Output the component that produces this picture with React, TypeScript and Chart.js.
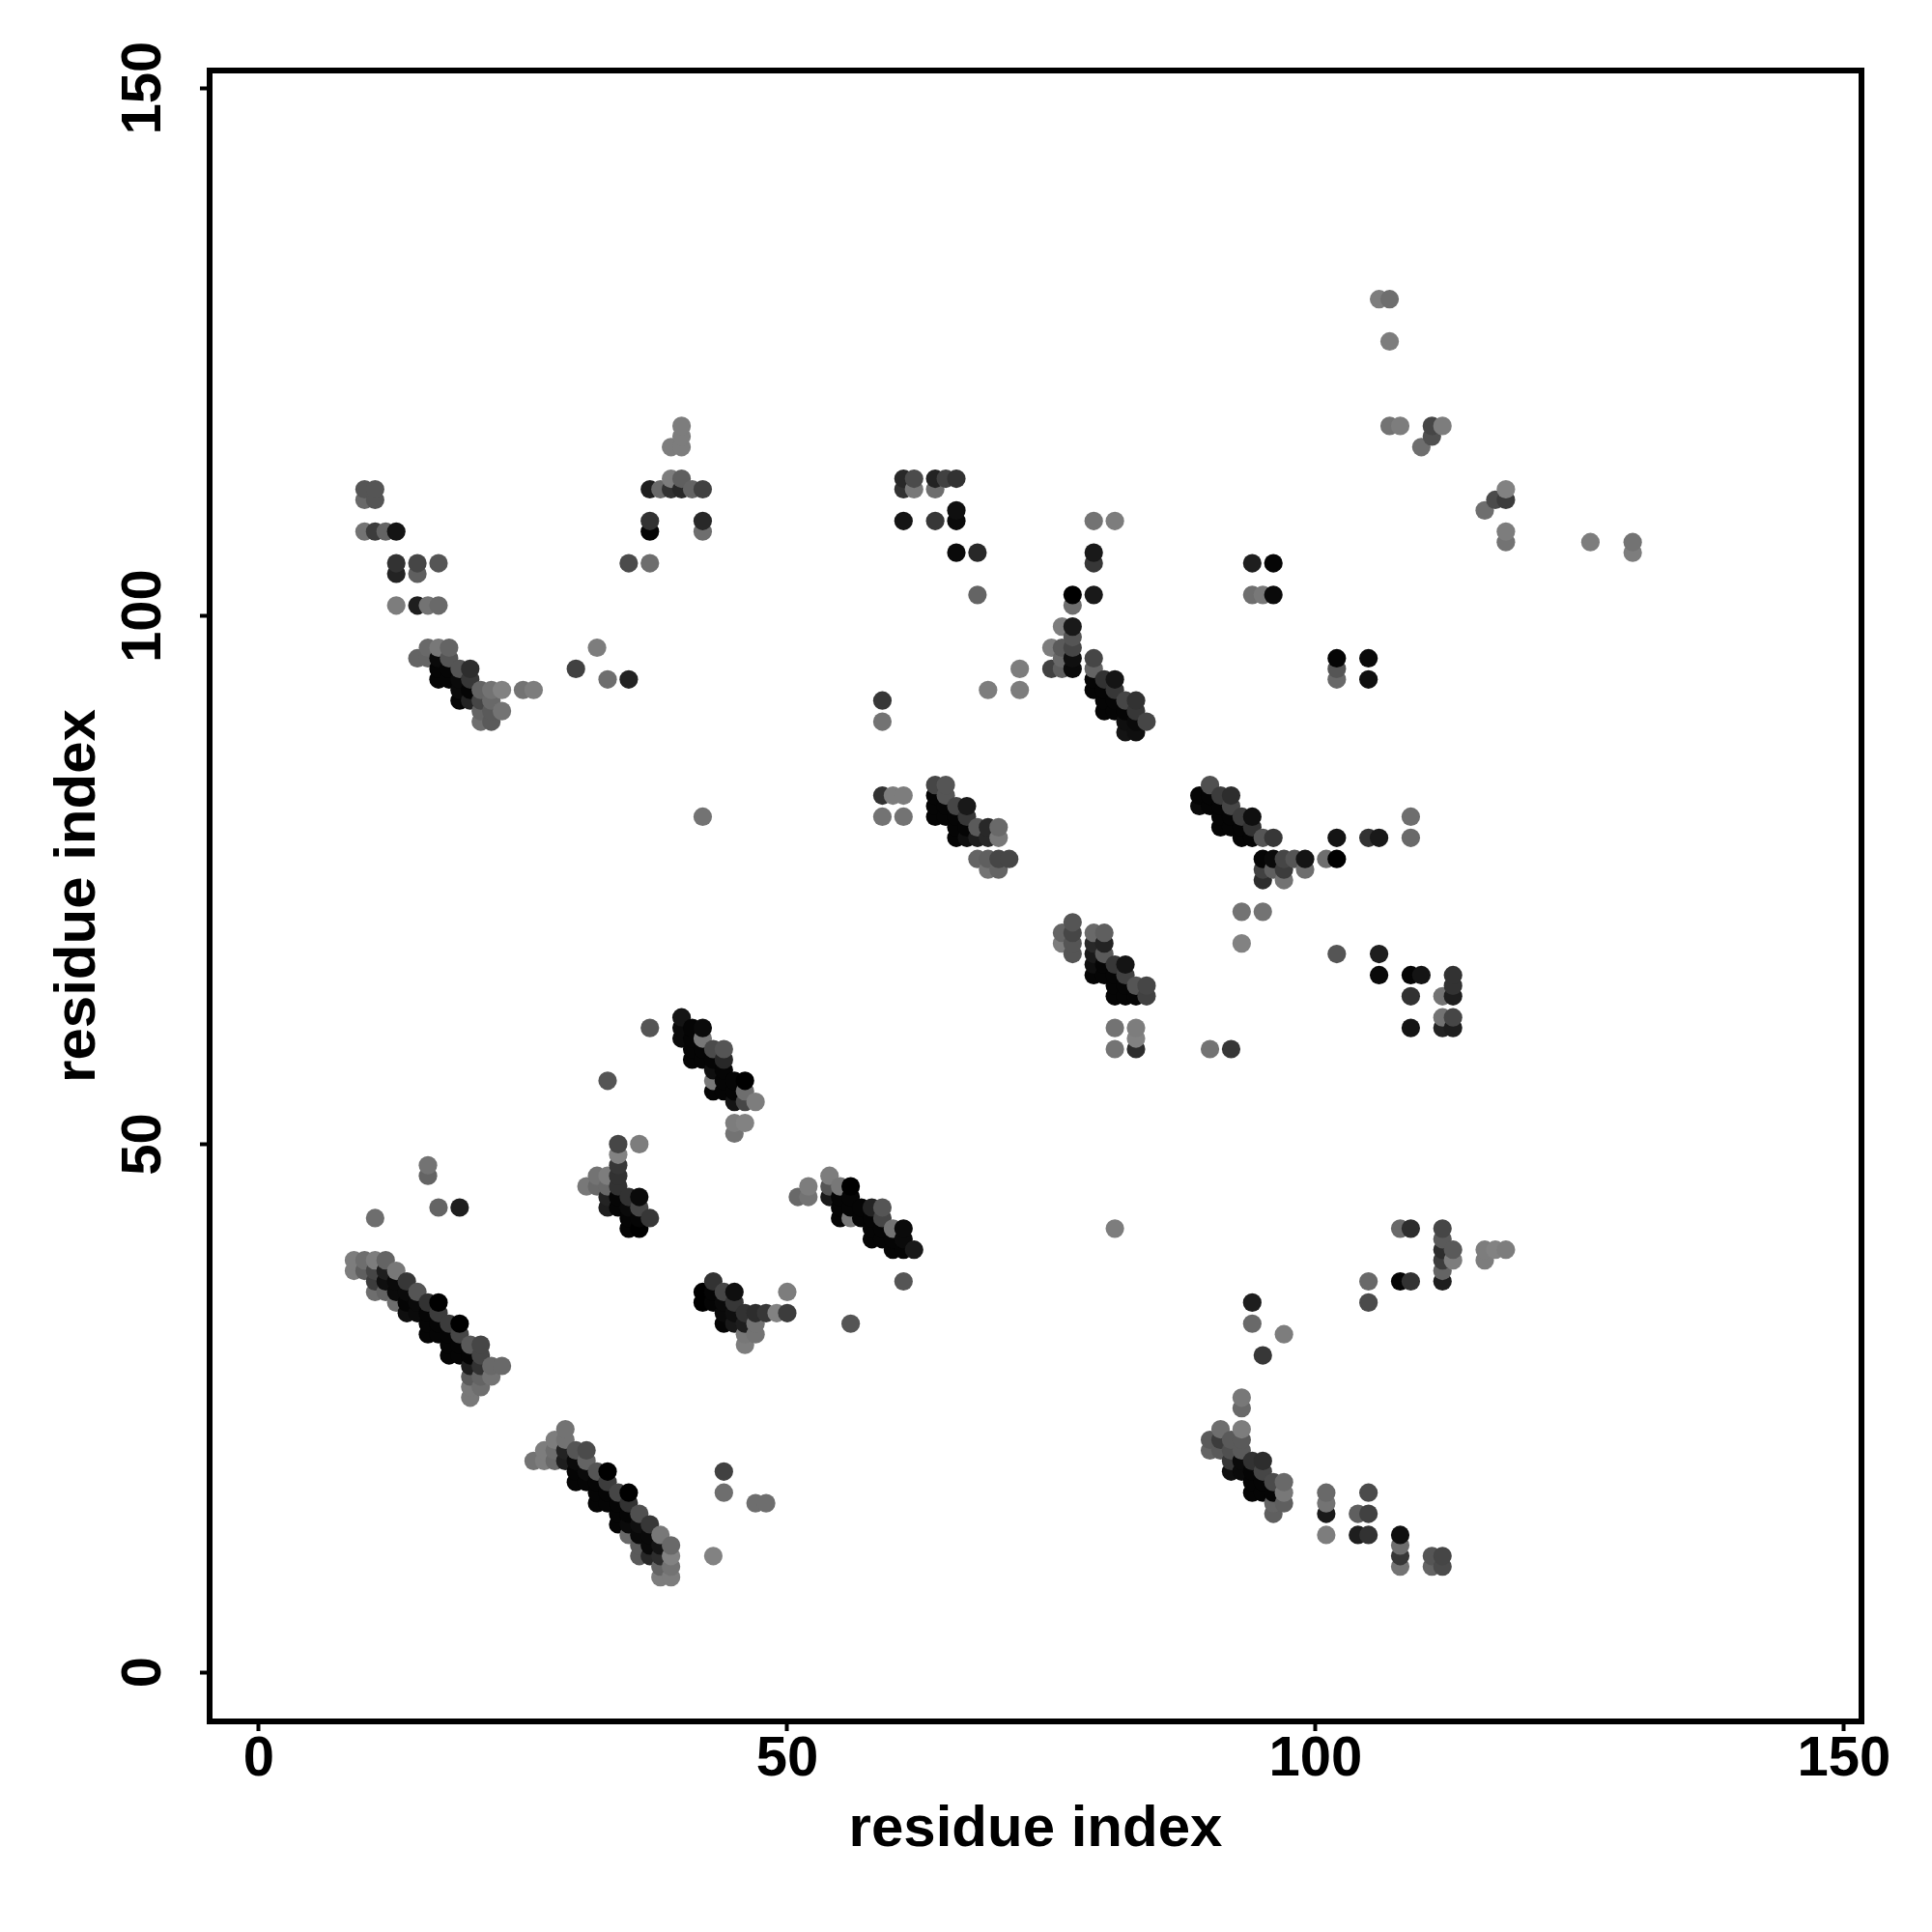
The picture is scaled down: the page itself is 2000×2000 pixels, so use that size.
import React, { useEffect, useRef } from "react";
import { Chart, registerables } from "chart.js";

Chart.register(...registerables);

type Contact = [number, number, number];

const tickValues = [0, 50, 100, 150];
const axisTitle = "residue index";

// [residue x, residue y, grey level]
const strandA: Contact[] = [
  [9,39,125],[9,38,125],[10,39,110],[10,38,95],[11,39,125],[11,38,70],[11,37,60],[11,36,110],
  [12,39,100],[12,38,30],[12,37,15],[12,36,100],[13,38,120],[13,37,10],[13,36,10],[13,35,110],
  [14,37,55],[14,36,10],[14,35,5],[14,34,15],[15,36,85],[15,35,10],[15,34,10],
  [16,35,50],[16,34,5],[16,33,5],[16,32,5],[17,35,0],[17,34,60],[17,33,5],[17,32,5],
  [18,33,60],[18,32,5],[18,31,5],[18,30,5],[19,33,0],[19,32,70],[19,31,5],[19,30,5],
  [20,31,90],[20,30,5],[20,29,30],[20,28,90],[20,27,120],[20,26,120],
  [21,31,70],[21,30,70],[21,29,50],[21,28,100],[21,27,110],[22,29,105],[22,28,115],[23,29,105],
];
const strandB: Contact[] = [
  [26,20,115],[27,21,125],[27,20,125],[28,22,125],[28,21,110],[28,20,105],
  [29,23,115],[29,22,115],[29,21,35],[29,20,30],[30,21,85],[30,20,10],[30,19,5],[30,18,5],
  [31,21,75],[31,20,100],[31,19,10],[31,18,5],[32,19,85],[32,18,5],[32,17,5],[32,16,5],
  [33,19,0],[33,18,60],[33,17,5],[33,16,5],[34,17,70],[34,16,5],[34,15,5],[34,14,5],
  [35,17,0],[35,16,50],[35,15,5],[35,14,10],[35,13,105],[36,15,80],[36,14,15],[36,13,10],[36,12,90],[36,11,90],
  [37,14,55],[37,13,10],[37,12,10],[37,11,40],[38,13,120],[38,12,20],[38,11,45],[38,10,100],[38,9,125],
  [39,12,105],[39,11,130],[39,10,115],[39,9,125],
];
const lowerLeftSingles: Contact[] = [
  [43,11,130],[44,19,65],[44,17,110],[47,16,110],[48,16,110],[11,43,110],[16,48,115],[16,47,100],[17,44,100],[19,44,30],
  [37,61,85],[33,56,85],[36,50,125],[56,33,85],[61,37,85],[42,81,115],[81,42,125],
];
const strandC: Contact[] = [
  [40,62,20],[40,61,10],[40,60,10],[41,61,5],[41,60,5],[41,59,5],[41,58,5],
  [42,61,10],[42,60,120],[42,59,5],[42,58,5],[43,59,75],[43,58,5],[43,57,15],[43,56,120],[43,55,5],
  [44,59,85],[44,58,40],[44,57,5],[44,56,5],[44,55,5],[45,56,5],[45,55,5],[45,54,20],[45,52,125],[45,51,115],
  [46,56,0],[46,55,110],[46,54,70],[46,52,130],[47,54,125],
];
const strandD: Contact[] = [
  [31,46,120],[32,47,115],[32,46,105],[33,47,125],[33,46,105],[33,45,35],[33,44,30],
  [34,50,70],[34,49,130],[34,48,55],[34,47,50],[34,46,50],[34,45,5],[34,44,5],
  [35,45,50],[35,44,10],[35,43,5],[35,42,5],[36,45,10],[36,44,70],[36,43,5],[36,42,0],[37,43,55],
];
const strandE: Contact[] = [
  [42,36,0],[42,35,0],[43,37,50],[43,36,5],[43,35,5],[44,36,70],[44,35,10],[44,34,10],[44,33,5],
  [45,36,15],[45,35,55],[45,34,15],[45,33,25],[46,34,50],[46,33,30],[46,32,120],[46,31,125],
  [47,34,45],[47,33,115],[47,32,115],[48,34,55],[49,34,130],[50,36,125],[50,34,60],
];
const strandF: Contact[] = [
  [51,45,105],[52,46,125],[52,45,115],[54,47,125],[54,46,85],[54,45,25],
  [55,46,120],[55,45,5],[55,44,5],[55,43,5],[56,46,0],[56,45,5],[56,44,5],[56,43,120],[57,44,5],[57,43,5],
  [58,44,35],[58,43,5],[58,42,5],[58,41,5],[59,44,85],[59,43,70],[59,42,5],[59,41,5],
  [60,42,115],[60,41,5],[60,40,5],[61,42,10],[61,41,10],[61,40,5],[62,40,25],
];
const upperLeft: Contact[] = [
  [10,112,85],[10,111,105],[10,108,115],[11,112,85],[11,111,85],[11,108,60],[12,108,100],
  [13,108,20],[13,105,50],[13,104,35],[13,101,125],[15,105,70],[15,104,95],[15,101,30],[16,101,115],
  [17,105,85],[17,101,105],
  [15,96,100],[16,97,105],[16,96,100],[17,97,120],[17,96,10],[17,95,5],[17,94,5],
  [18,97,100],[18,96,85],[18,95,5],[18,94,5],[19,95,85],[19,94,10],[19,93,10],[19,92,5],
  [20,95,45],[20,94,55],[20,93,5],[20,92,35],[21,93,100],[21,92,70],[21,91,100],[21,90,110],
  [22,93,115],[22,92,105],[22,91,90],[22,90,90],[23,93,130],[23,91,115],[25,93,115],[26,93,125],
  [30,95,65],[32,97,125],[33,94,110],[35,94,35],
];
const upperMiddle: Contact[] = [
  [40,118,125],[40,117,125],[40,116,125],[39,116,125],[39,113,125],[39,112,50],[40,113,95],[40,112,40],
  [37,112,30],[37,109,50],[37,108,5],[38,112,105],[41,112,100],[42,112,65],[42,109,40],[42,108,110],
  [35,105,75],[37,105,110],
  [61,113,40],[61,112,50],[61,109,20],[62,113,75],[62,112,120],[64,113,35],[64,112,110],[64,109,55],
  [65,113,65],[66,113,50],[66,110,15],[66,109,10],[66,106,10],[68,106,40],[68,102,100],
  [59,92,55],[59,90,115],[69,93,125],[72,95,125],[72,93,125],
];
const strandG: Contact[] = [
  [79,109,115],[81,109,125],[79,106,25],[79,105,55],[79,102,25],[77,102,0],[77,101,110],
  [76,99,125],[77,99,25],[77,98,85],[77,97,70],[77,96,15],[77,95,10],[75,97,125],[75,95,65],
  [76,97,90],[76,96,105],[76,95,95],
  [79,96,70],[79,95,100],[79,94,5],[79,93,5],[80,94,50],[80,93,5],[80,92,5],[80,91,5],
  [81,94,20],[81,93,55],[81,92,5],[81,91,5],[82,92,70],[82,91,5],[82,90,15],[82,89,20],
  [83,92,50],[83,91,55],[83,90,10],[83,89,15],[84,90,70],
];
const strandH: Contact[] = [
  [59,83,50],[59,81,115],[60,83,125],[61,83,125],[61,81,115],
  [64,84,70],[64,83,5],[64,82,5],[64,81,5],[65,84,85],[65,83,85],[65,82,5],[65,81,5],
  [66,82,70],[66,81,5],[66,80,5],[66,79,5],[67,82,25],[67,81,55],[67,80,5],[67,79,15],
  [68,80,90],[68,79,30],[69,80,40],[69,79,40],[70,80,105],[70,79,120],
  [68,77,100],[69,77,95],[69,76,115],[70,77,70],[70,76,100],[71,77,70],
];
const strandI: Contact[] = [
  [76,70,100],[76,69,125],[77,71,85],[77,70,70],[77,69,85],[77,68,85],
  [79,70,105],[79,69,40],[79,68,25],[79,67,15],[79,66,5],[80,70,95],[80,69,35],[80,68,90],[80,67,5],[80,66,5],
  [81,67,55],[81,66,5],[81,65,5],[81,64,5],[82,67,20],[82,66,65],[82,65,5],[82,64,5],
  [83,65,85],[83,64,5],[84,65,70],[84,64,65],
  [81,61,115],[81,59,115],[83,61,125],[83,60,130],[83,59,45],
];
const rightMiddle: Contact[] = [
  [93,72,115],[95,72,115],[93,69,130],[102,68,85],[106,68,30],[106,66,10],[109,66,5],[110,66,20],
  [109,64,50],[112,64,115],[113,66,50],[113,65,50],[113,64,30],[112,62,115],[113,62,70],[112,61,35],[113,61,30],
  [109,61,20],[90,59,115],[92,59,55],
];
const strandJ: Contact[] = [
  [89,83,5],[89,82,10],[90,84,80],[90,83,5],[90,82,5],[91,83,60],[91,82,5],[91,81,5],[91,80,5],
  [92,83,45],[92,82,70],[92,81,5],[92,80,5],[93,81,60],[93,80,5],[93,79,5],[94,81,15],[94,80,50],[94,79,5],
  [95,79,85],[95,77,5],[95,76,65],[95,75,45],[96,79,55],[96,77,10],[96,76,95],
  [97,77,70],[97,76,60],[97,75,115],[98,77,85],[99,77,20],[99,76,110],
  [101,77,110],[102,77,0],[102,79,20],[105,79,50],[106,79,25],[109,81,110],[109,79,105],
];
const lowerRight: Contact[] = [
  [108,42,105],[109,42,45],[112,42,70],[112,41,90],[112,40,45],[112,39,60],[112,38,100],[112,37,30],
  [113,40,90],[113,39,125],[116,40,125],[116,39,125],[117,40,130],[118,40,125],
  [105,37,105],[105,35,75],[108,37,5],[109,37,50],[94,35,30],[94,33,105],[97,32,125],[95,30,55],
];
const strandK: Contact[] = [
  [93,26,120],[93,25,105],[93,23,125],[93,22,90],[93,21,90],[90,22,90],[90,21,100],
  [91,23,110],[91,22,60],[91,21,90],[92,22,90],[92,21,80],[92,20,55],[92,19,15],[93,20,10],[93,19,10],
  [94,20,50],[94,19,5],[94,18,5],[94,17,5],[95,20,45],[95,19,70],[95,18,5],[95,17,5],
  [96,18,75],[96,17,5],[96,16,100],[96,15,95],[97,18,105],[97,17,120],[97,16,95],
  [101,17,105],[101,16,115],[101,15,25],[101,13,125],[104,15,95],[105,17,75],[105,15,65],[104,13,30],[105,13,50],
  [108,13,15],[108,12,110],[108,11,55],[108,10,115],[111,11,85],[111,10,100],[112,11,70],[112,10,75],
];
const upperRight: Contact[] = [
  [106,130,125],[107,130,110],[107,126,125],[107,118,115],[108,118,125],[111,118,70],[112,118,125],
  [111,117,80],[110,116,110],[118,112,130],[118,111,60],[117,111,75],[116,110,110],[118,108,125],[118,107,115],
  [126,107,125],[130,107,115],[130,106,125],
  [94,105,30],[96,105,5],[94,102,110],[95,102,120],[96,102,10],
  [102,96,5],[102,95,85],[102,94,105],[105,96,10],[105,94,15],
];

const contacts: Contact[] = [
  ...strandA, ...strandB, ...lowerLeftSingles, ...strandC, ...strandD, ...strandE, ...strandF,
  ...upperLeft, ...upperMiddle, ...strandG, ...strandH, ...strandI, ...rightMiddle, ...strandJ,
  ...lowerRight, ...strandK, ...upperRight,
].sort((a, b) => a[0] - b[0] || a[1] - b[1]);

const FAMILY = "'Liberation Sans', Arial, sans-serif";
const TICK_FONT = { family: FAMILY, size: 58, weight: "bold" as const };
const TITLE_FONT = { family: FAMILY, size: 60, weight: "bold" as const };

export default function App() {
  const ref = useRef<HTMLCanvasElement>(null);
  useEffect(() => {
    document.body.style.margin = "0";
    const boxPlugin = {
      id: "box",
      afterDraw(chart: any) {
        const { left, right, top, bottom } = chart.chartArea;
        const c = chart.ctx;
        c.save();
        c.strokeStyle = "#000";
        c.lineWidth = 6;
        c.strokeRect(left, top, right - left, bottom - top);
        c.restore();
      },
    };
    const setTicks = (scale: any) => {
      scale.ticks = tickValues.map((value) => ({ value }));
    };
    const common = {
      type: "linear" as const,
      min: -4.66,
      max: 151.65,
      afterBuildTicks: setTicks,
      grid: { drawOnChartArea: false, drawTicks: true, tickLength: 10, tickWidth: 4, tickColor: "#000" },
      border: { display: false },
    };
    const chart = new Chart(ref.current!, {
      type: "scatter",
      data: {
        datasets: [
          {
            data: contacts.map((c) => ({ x: c[0], y: c[1] })),
            pointRadius: 9.6,
            pointHoverRadius: 9.6,
            pointBorderWidth: 0,
            pointBackgroundColor: contacts.map((c) => `rgb(${c[2]},${c[2]},${c[2]})`),
          },
        ],
      },
      options: {
        animation: false,
        responsive: false,
        events: [],
        layout: { padding: { left: 0, top: 73, right: 73, bottom: 0 } },
        plugins: { legend: { display: false }, tooltip: { enabled: false } },
        scales: {
          x: {
            ...common,
            afterFit: (s: any) => { s.height = 218; },
            ticks: { color: "#000", font: TICK_FONT, autoSkip: false, maxRotation: 0, minRotation: 0, padding: -5, callback: (v: any) => String(v) },
            title: { display: true, text: axisTitle, color: "#000", font: TITLE_FONT, padding: { top: 0, bottom: 70 } },
          },
          y: {
            ...common,
            afterFit: (s: any) => { s.width = 217; },
            ticks: { color: "#000", font: TICK_FONT, autoSkip: false, maxRotation: 90, minRotation: 90, padding: 9, crossAlign: "center", callback: (v: any) => String(v) },
            title: { display: true, text: axisTitle, color: "#000", font: TITLE_FONT, padding: { top: 45, bottom: 0 } },
          },
        },
      },
      plugins: [boxPlugin],
    } as any);
    return () => chart.destroy();
  }, []);
  return <canvas ref={ref} width={2000} height={2000} style={{ display: "block", background: "#fff" }} />;
}
